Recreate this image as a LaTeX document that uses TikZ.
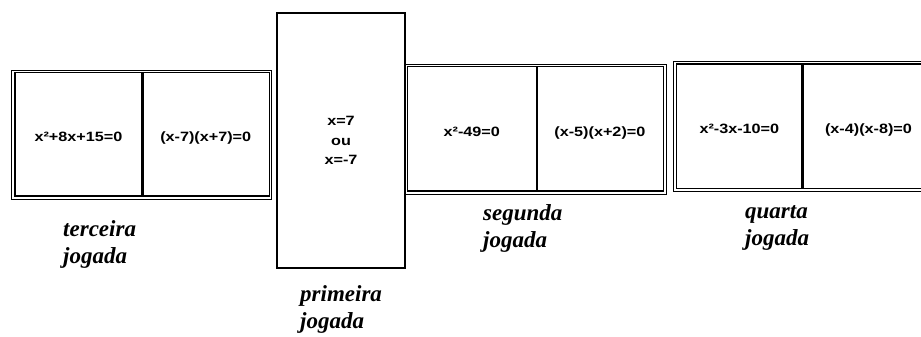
\documentclass[tikz,border=0pt]{standalone}
\usepackage{fontspec}
\setmainfont{Liberation Serif}
\newfontfamily\eqfont[FakeStretch=1.2]{Liberation Sans}
\tikzset{
  frame/.style={draw, line width=0.9pt},
  cell/.style={draw, line width=1.3pt, inner sep=0pt, align=center,
               font=\fontsize{13.5}{17}\selectfont\eqfont\bfseries},
  eq/.style={cell, text height=15pt, text depth=0pt},
  lbl/.style={inner sep=0pt, align=left,
              font=\fontsize{23}{27}\selectfont\bfseries\itshape},
}

\begin{document}
\begin{tikzpicture}[x=1pt, y=-1pt]
\useasboundingbox (0,0) rectangle (921,337);
\clip (0,0) rectangle (921,337);

%% terceira jogada
\draw[frame] (11.5,70) rectangle (271.5,199.5);
\node[eq, minimum width=127, minimum height=123.5] (t1) at (78.5,134.25) {x²+8x+15=0};
\node[eq, minimum width=127.5, minimum height=123.5] (t2) at (205.75,134.25) {(x-7)(x+7)=0};
\draw[line width=3.5pt] (t1.north east) -- (t1.south east);
\node[lbl, anchor=base west] (lt) at (63,263) {terceira\\jogada};

%% primeira jogada
\node[cell, line width=1.5pt, minimum width=128, minimum height=255,
      font=\fontsize{13.5}{19.7}\selectfont\eqfont\bfseries] (p1) at (341,140.5) {x=7\\ou\\x=-7};
\node[lbl, anchor=base west] (lp) at (300,328) {primeira\\jogada};

%% segunda jogada
\draw[frame] (404,64) rectangle (666.7,194.3);
\node[eq, minimum width=129, minimum height=124.3] (s1) at (471.8,128.85) {x²-49=0};
\node[eq, minimum width=127.2, minimum height=124.3] (s2) at (599.9,128.85) {(x-5)(x+2)=0};
\draw[line width=2.5pt] (s1.north east) -- (s1.south east);
\node[lbl, anchor=base west] (ls) at (483,247) {segunda\\jogada};

%% quarta jogada
\draw[frame] (673.3,61.7) rectangle (940,191.7);
\node[eq, minimum width=125.3, minimum height=124.3] (q1) at (739.35,126.15) {x²-3x-10=0};
\node[eq, minimum width=133, minimum height=124.3] (q2) at (868.5,126.15) {(x-4)(x-8)=0};
\draw[line width=2.5pt] (q1.north east) -- (q1.south east);
\node[lbl, anchor=base west] (lq) at (745,245) {quarta\\jogada};

\end{tikzpicture}
\end{document}
